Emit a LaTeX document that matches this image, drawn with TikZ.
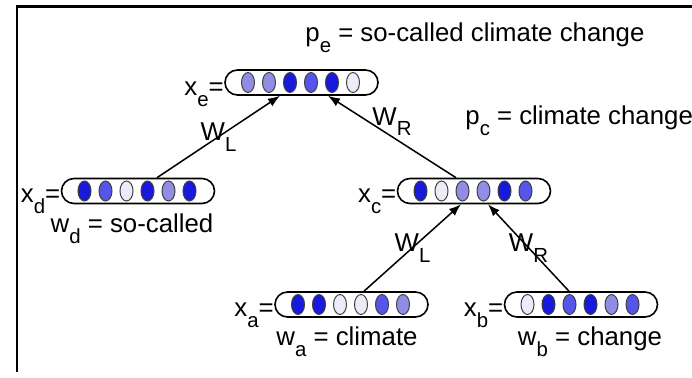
\documentclass[tikz,border=0pt]{standalone}
\usepackage{fontspec}
\setmainfont{Liberation Sans}
\usetikzlibrary{positioning, shapes.misc, arrows.meta, calc}

\definecolor{bdark}{RGB}{25,25,220}
\definecolor{bmid}{RGB}{85,85,235}
\definecolor{blight}{RGB}{145,140,228}
\definecolor{bpale}{RGB}{236,236,248}

\newcommand{\lsub}[1]{\raisebox{-0.42em}{\fontsize{10.2bp}{11bp}\selectfont #1}}
% six units of a word vector inside its pill
\newcommand{\vecunits}[2]{%
    \foreach \ucol [count=\k] in {#2}
        \filldraw [unit, fill=\ucol] ($(#1.center) + (\k*21 - 74.5, 0)$) ellipse (3.25bp and 5bp);
}

\begin{document}
\begin{tikzpicture}[x=0.5bp, y=-0.5bp,
        every node/.style={font=\fontsize{12.9bp}{15bp}\selectfont, inner sep=0pt},
        pill/.style={draw, line width=0.8bp, rounded rectangle, minimum width=76.5bp, minimum height=12.5bp},
        unit/.style={draw=black!75, line width=0.5bp},
        link/.style={-{Latex[length=6bp, width=4.5bp]}, line width=0.75bp}]
    \useasboundingbox (0,0) rectangle (692,378);
    \draw [line width=1.2bp] (17,372) -- (17,6.5) -- (692,6.5);

    \node [pill] (xe) at (301.5,82.5) {};
    \node [pill] (xd) at (138,191) {};
    \node [pill] (xc) at (474,191) {};
    \node [pill] (xa) at (351.5,304.5) {};
    \node [pill] (xb) at (581,304.5) {};

    \node [anchor=base east] (lxe) at ([yshift=-6.5bp]xe.west) {x\lsub{e}=};
    \node [anchor=base east] (lxd) at ([yshift=-6bp]xd.west) {x\lsub{d}=};
    \node [anchor=base east] (lxc) at ([yshift=-6bp]xc.west) {x\lsub{c}=};
    \node [anchor=base east] (lxa) at ([yshift=-6bp]xa.west) {x\lsub{a}=};
    \node [anchor=base east] (lxb) at ([yshift=-6bp]xb.west) {x\lsub{b}=};

    \node [anchor=base west] (pe) at (305,42) {p\lsub{e} = so-called climate change};
    \node [anchor=base west] (pc) at (465,125) {p\lsub{c} = climate change};
    \node [anchor=base] (wd) at (132,233) {w\lsub{d} = so-called};
    \node [anchor=base] (wa) at (347,346) {w\lsub{a} = climate};
    \node [anchor=base] (wb) at (590,346) {w\lsub{b} = change};

    \draw [link] ([xshift=9.5bp]xd.north) -- ([xshift=-10.75bp]xe.south) node [midway] {W\lsub{L}};
    \draw [link] ([xshift=-9bp]xc.north) -- ([xshift=13.25bp]xe.south) node [midway, above] {W\lsub{R}};
    \draw [link] ([xshift=6.25bp]xa.north) -- ([xshift=-6.5bp]xc.south) node [midway] {W\lsub{L}};
    \draw [link] ([xshift=-6bp]xb.north) -- ([xshift=7bp]xc.south) node [midway] {W\lsub{R}};

    \vecunits{xe}{blight, blight, bdark, bmid, bdark, bpale}
    \vecunits{xd}{bdark, bmid, bpale, bdark, blight, bdark}
    \vecunits{xc}{bdark, bpale, blight, blight, bdark, bmid}
    \vecunits{xa}{bdark, bdark, bpale, bpale, bmid, blight}
    \vecunits{xb}{bpale, bdark, bmid, bdark, blight, bmid}
\end{tikzpicture}
\end{document}
